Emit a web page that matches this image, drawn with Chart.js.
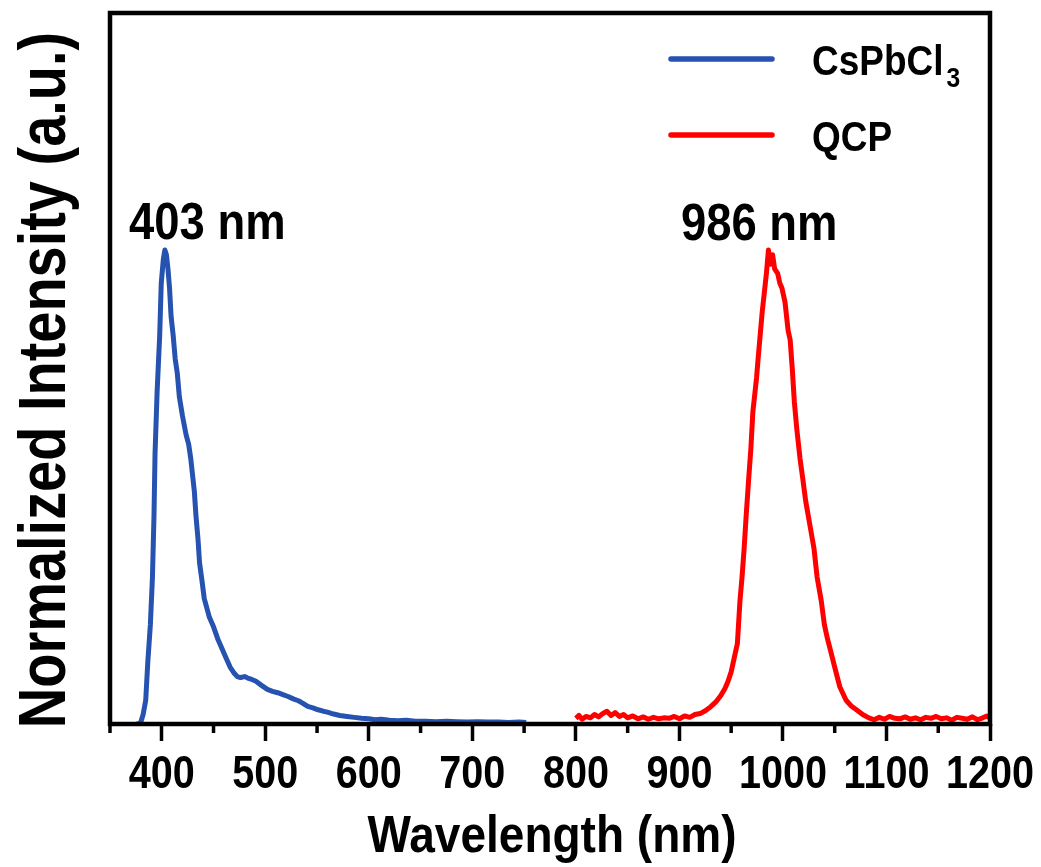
<!DOCTYPE html>
<html>
<head>
<meta charset="utf-8">
<script src="https://cdn.jsdelivr.net/npm/chart.js@4.4.1/dist/chart.umd.min.js"></script>
<style>
  html, body { margin: 0; padding: 0; background: #fff; }
  #wrap { width: 1041px; height: 867px; position: relative; }
</style>
</head>
<body>
<div id="wrap"><canvas id="plChart"></canvas></div>
<script>
// PL spectra, normalized; wavelengths in nm
const cspbWavelength = [376, 379.5, 382, 384.5, 386.5, 389, 391, 392.5, 393.5, 395.5, 398, 399.5, 401.5, 403,
  404.5, 406, 407.5, 409, 411, 413, 415, 417, 420, 423.5, 426, 428, 430, 431.5, 433, 435, 436.5, 439, 441,
  443.5, 446, 450, 454, 458, 462, 466, 470, 473, 476, 480, 483, 487, 491, 496, 502, 507, 512, 517, 522, 527,
  532, 536, 541, 546, 551, 556, 560, 566, 572, 579, 586, 593, 600, 606, 612, 620, 628, 636, 645, 655, 665,
  675, 685, 695, 705, 715, 725, 735, 745, 752];
const cspbIntensity = [0.0, 0.002, 0.02, 0.05, 0.13, 0.21, 0.31, 0.44, 0.57, 0.70, 0.82, 0.93, 0.98, 1.0,
  0.99, 0.96, 0.92, 0.86, 0.82, 0.77, 0.74, 0.69, 0.65, 0.61, 0.59, 0.56, 0.52, 0.49, 0.44, 0.39, 0.34, 0.30, 0.265,
  0.245, 0.225, 0.205, 0.18, 0.16, 0.14, 0.12, 0.107, 0.10, 0.098, 0.10, 0.097, 0.094, 0.09, 0.082, 0.073, 0.069, 0.066, 0.062, 0.058, 0.053,
  0.049, 0.044, 0.037, 0.034, 0.03, 0.027, 0.025, 0.021, 0.018, 0.016, 0.014, 0.012, 0.011, 0.009, 0.01, 0.008, 0.007, 0.008, 0.006, 0.006, 0.005,
  0.006, 0.005, 0.004, 0.005, 0.004, 0.004, 0.003, 0.004, 0.003];

const qcpWavelength = [800, 803, 806, 810, 814, 818, 822, 826, 830, 834, 838, 842, 846, 850, 855, 860, 865, 870,
  875, 880, 885, 890, 895, 900, 905, 910, 915, 920, 925, 930, 935, 940, 944, 947, 950, 953, 956, 958.5, 960.5,
  962.5, 964.5, 967, 969, 971, 973, 974.5, 976, 978, 980, 982, 984, 986, 988, 990, 992, 995, 997, 999, 1002,
  1005, 1007, 1009, 1011, 1013.5, 1016.5, 1019, 1022, 1026, 1030, 1033, 1037, 1040, 1043, 1046, 1050, 1055,
  1061, 1066, 1071, 1077, 1083, 1088, 1093, 1098, 1103, 1108, 1113, 1118, 1123, 1128, 1133, 1138, 1143, 1148,
  1153, 1158, 1163, 1168, 1173, 1178, 1183, 1188, 1193, 1197, 1200];
const qcpIntensity = [0.012, 0.018, 0.01, 0.016, 0.013, 0.02, 0.015, 0.022, 0.027, 0.018, 0.024, 0.016, 0.02, 0.013,
  0.017, 0.011, 0.015, 0.01, 0.014, 0.011, 0.013, 0.012, 0.016, 0.011, 0.017, 0.014, 0.02, 0.022, 0.028, 0.036,
  0.046, 0.06, 0.075, 0.09, 0.11, 0.14, 0.17, 0.26, 0.31, 0.37, 0.44, 0.52, 0.58, 0.66, 0.70, 0.73, 0.77, 0.82,
  0.87, 0.91, 0.95, 1.0, 0.97, 0.99, 0.96, 0.95, 0.93, 0.92, 0.89, 0.83, 0.81, 0.75, 0.68, 0.62, 0.56, 0.52, 0.47,
  0.42, 0.37, 0.31, 0.26, 0.21, 0.18, 0.155, 0.12, 0.078, 0.05, 0.038, 0.03, 0.02, 0.013, 0.009, 0.014, 0.01,
  0.016, 0.012, 0.011, 0.015, 0.01, 0.013, 0.009, 0.014, 0.012, 0.016, 0.011, 0.013, 0.008, 0.014, 0.012, 0.01,
  0.015, 0.009, 0.013, 0.017, 0.012];

const seriesNames = ['CsPbCl3', 'QCP'];
const seriesColors = ['#2652b0', '#ff0000'];
const majorTicks = [400, 500, 600, 700, 800, 900, 1000, 1100, 1200];
const minorTicks = [350, 450, 550, 650, 750, 850, 950, 1050, 1150];
// peak labels: text, anchor wavelength, anchor intensity
const peakLabels = [['403 nm', 444, 1.056], ['986 nm', 977, 1.054]];

const FONT = "'Liberation Sans', Arial, sans-serif";

function toPoints(xs, ys) {
  return xs.map((x, i) => ({ x: x, y: ys[i] }));
}

// bold text squeezed horizontally (narrow face look)
function narrowText(ctx, text, x, y, size, align, squeeze, rot) {
  ctx.save();
  ctx.translate(x, y);
  if (rot) ctx.rotate(rot);
  ctx.scale(squeeze, 1);
  ctx.font = 'bold ' + size + 'px ' + FONT;
  ctx.fillStyle = '#000';
  ctx.textAlign = align;
  ctx.textBaseline = 'alphabetic';
  ctx.fillText(text, 0, 0);
  const w = ctx.measureText(text).width * squeeze;
  ctx.restore();
  return w;
}

const framePlugin = {
  id: 'frame',
  afterDatasetsDraw(chart) {
    const ctx = chart.ctx;
    const a = chart.chartArea;
    const xs = chart.scales.x;
    const ys = chart.scales.y;
    ctx.save();
    ctx.strokeStyle = '#000';
    ctx.lineWidth = 4.5;
    ctx.strokeRect(a.left, a.top, a.right - a.left, a.bottom - a.top);

    // short minor ticks under the x axis
    ctx.lineWidth = 3.5;
    minorTicks.forEach(v => {
      const px = xs.getPixelForValue(v);
      ctx.beginPath();
      ctx.moveTo(px, a.bottom);
      ctx.lineTo(px, a.bottom + 9);
      ctx.stroke();
    });
    ctx.restore();

    // tick labels and axis titles
    majorTicks.forEach(v => {
      narrowText(ctx, String(v), xs.getPixelForValue(v), 788, 46, 'center', 0.86);
    });
    narrowText(ctx, 'Wavelength (nm)', (a.left + a.right) / 2 + 2, 852, 52, 'center', 0.885);
    narrowText(ctx, 'Normalized Intensity (a.u.)', 65, 380, 67, 'center', 0.835, -Math.PI / 2);

    // peak positions
    peakLabels.forEach(p => {
      narrowText(ctx, p[0], xs.getPixelForValue(p[1]), ys.getPixelForValue(p[2]) + 16, 52.5, 'center', 0.865);
    });

    // legend
    ctx.save();
    const rows = [59, 135];
    rows.forEach((y, i) => {
      ctx.strokeStyle = seriesColors[i];
      ctx.lineWidth = 5.5;
      ctx.lineCap = 'round';
      ctx.beginPath();
      ctx.moveTo(671, y);
      ctx.lineTo(772, y);
      ctx.stroke();
    });
    ctx.restore();
    const w = narrowText(ctx, 'CsPbCl', 812, 75, 42, 'left', 0.88);
    narrowText(ctx, '3', 812 + w + 3, 87, 28, 'left', 0.88);
    narrowText(ctx, 'QCP', 812, 151, 42, 'left', 0.88);
  }
};

new Chart(document.getElementById('plChart'), {
  type: 'line',
  data: {
    datasets: [
      { label: seriesNames[0], data: toPoints(cspbWavelength, cspbIntensity), borderColor: seriesColors[0] },
      { label: seriesNames[1], data: toPoints(qcpWavelength, qcpIntensity), borderColor: seriesColors[1] }
    ]
  },
  options: {
    responsive: true,
    maintainAspectRatio: false,
    animation: false,
    events: [],
    layout: { padding: { left: 110, right: 51, top: 13, bottom: 0 } },
    elements: {
      line: { borderWidth: 5, tension: 0, borderJoinStyle: 'round' },
      point: { radius: 0 }
    },
    plugins: { legend: { display: false }, tooltip: { enabled: false } },
    scales: {
      x: {
        type: 'linear',
        min: 350,
        max: 1200,
        afterBuildTicks: scale => { scale.ticks = majorTicks.map(v => ({ value: v })); },
        afterFit: scale => { scale.height = 143; },
        border: { display: false },
        grid: { drawOnChartArea: false, tickLength: 17, tickWidth: 3.5, tickColor: '#000' },
        ticks: { display: false }
      },
      y: { display: false, min: 0, max: 1.5 }
    }
  },
  plugins: [framePlugin]
});
</script>
</body>
</html>
